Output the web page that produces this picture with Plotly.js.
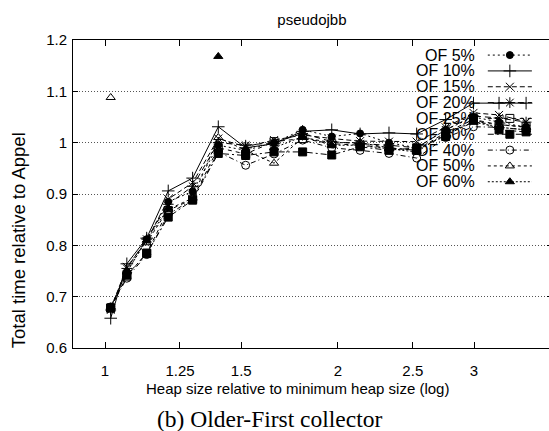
<!DOCTYPE html>
<html>
<head>
<meta charset="utf-8">
<script src="https://cdn.plot.ly/plotly-3.0.1.min.js"></script>
<style>
html,body{margin:0;padding:0;background:#fff;overflow:hidden;}
#chart{width:556px;height:431px;}
</style>
</head>
<body>
<div id="chart"></div>
<script>
// ---- data ----
const heapSize = [1.017, 1.067, 1.132, 1.207, 1.298, 1.401, 1.52, 1.654, 1.801, 1.964, 2.137, 2.329, 2.529, 2.757, 2.995, 3.232, 3.503];
const seriesNames = ['OF 5%', 'OF 10%', 'OF 15%', 'OF 20%', 'OF 25%', 'OF 30%', 'OF 40%', 'OF 50%', 'OF 60%'];
const of5  = [0.680, 0.748, 0.812, 0.885, 0.905, 0.995, 0.985, 1.000, 1.025, 1.012, 1.018, 1.000, 0.990, 1.025, 1.050, 1.040, 1.030];
const of10 = [0.658, 0.764, 0.814, 0.906, 0.931, 1.031, 0.990, 0.998, 1.022, 1.025, 1.017, 1.019, 1.017, 1.045, 1.077, 1.077, 1.077];
const of15 = [0.676, 0.758, 0.808, 0.890, 0.922, 1.008, 0.992, 1.005, 1.015, 1.008, 1.003, 1.002, 1.002, 1.030, 1.058, 1.054, 1.041];
const of20 = [0.674, 0.755, 0.812, 0.880, 0.915, 1.000, 0.995, 1.000, 1.018, 1.002, 0.998, 0.995, 0.990, 1.025, 1.052, 1.048, 1.040];
const of25 = [0.678, 0.740, 0.785, 0.868, 0.890, 0.990, 0.978, 1.002, 1.008, 0.998, 0.995, 0.990, 0.985, 1.020, 1.045, 1.035, 1.031];
const of30 = [0.678, 0.742, 0.784, 0.855, 0.888, 0.979, 0.975, 0.982, 0.982, 0.976, 0.992, 0.985, 0.990, 1.012, 1.047, 1.025, 1.021];
const of40 = [0.680, 0.736, 0.782, 0.860, 0.890, 0.982, 0.956, 0.978, 1.005, 0.990, 0.985, 0.979, 0.970, 1.010, 1.031, 1.030, 1.025];
const of50 = [1.088, null, 0.805, 0.870, 0.892, 1.010, 0.985, 0.960, 1.010, 1.000, 1.000, 0.990, 0.985, 1.015, 1.040, 1.035, 1.030];
const of60 = [0.680, 0.748, 0.810, 0.872, null, 1.168, null, 0.990, 1.012, 0.995, 0.995, 0.988, 0.982, 1.018, 1.040, 1.030, 1.025];
const xTickVals = [1, 1.25, 1.5, 2, 2.5, 3];
const xTickText = ['1', '1.25', '1.5', '2', '2.5', '3'];
const yTickVals = [0.6, 0.7, 0.8, 0.9, 1.0, 1.1, 1.2];
const yTickText = ['0.6', '0.7', '0.8', '0.9', '1', '1.1', '1.2'];

// ---- styles ----
const allSeries = [of5, of10, of15, of20, of25, of30, of40, of50, of60];
const symbols = ['circle', 'cross-thin-open', 'x-thin-open', 'asterisk-open', 'square-open', 'square', 'circle-open', 'triangle-up-open', 'triangle-up'];
const sizes = [7, 9, 8, 9, 8, 8, 8, 8, 8];
const dashes = ['2px,3px', 'solid', '5px,3px', '6px,4px', '4px,4px', '6px,3px,2px,3px', '5px,3px,1px,3px', '3px,3px', '2px,2px'];

const FONT = 'Liberation Sans, Arial, sans-serif';
const traces = [];
allSeries.forEach((ys, i) => {
  traces.push({
    type: 'scatter', mode: 'lines+markers', name: seriesNames[i],
    x: heapSize, y: ys, connectgaps: false, showlegend: false,
    line: {color: '#000', width: 1, dash: dashes[i]},
    marker: {symbol: symbols[i], size: sizes[i], color: '#000', line: {color: '#000', width: 1}},
    cliponaxis: true
  });
});

// legend keys drawn on an overlay axis spanning the plot area (0..1)
const keyX0 = 0.866, keyX1 = 0.958, keyTextX = 0.8434, keyTop = 0.951, keyStep = 0.0514;
const annotations = [];
seriesNames.forEach((nm, i) => {
  const ry = keyTop - i * keyStep;
  traces.push({
    type: 'scatter', mode: 'lines+markers', xaxis: 'x2', yaxis: 'y2', showlegend: false, hoverinfo: 'skip',
    x: [keyX0, (keyX0 + keyX1) / 2, keyX1], y: [ry, ry, ry],
    line: {color: '#000', width: 1, dash: dashes[i]},
    marker: {symbol: symbols[i], size: sizes[i], color: '#000', opacity: [0, 1, 0], line: {color: '#000', width: 1}}
  });
  annotations.push({xref: 'paper', yref: 'paper', x: keyTextX, y: ry, xanchor: 'right', yanchor: 'middle',
    text: nm, showarrow: false, font: {family: FONT, size: 16, color: '#000'}});
});

annotations.push({xref: 'paper', yref: 'paper', x: 0.4687, y: -0.13, xanchor: 'center', yanchor: 'middle',
  text: 'Heap size relative to minimum heap size (log)', showarrow: false, font: {family: FONT, size: 15, color: '#000'}});
annotations.push({xref: 'paper', yref: 'paper', x: -0.1148, y: 0.35, xanchor: 'center', yanchor: 'middle', textangle: -90,
  text: 'Total time relative to Appel', showarrow: false, font: {family: FONT, size: 18.5, color: '#000'}});
annotations.push({xref: 'paper', yref: 'paper', x: 0.411, y: -0.2305, xanchor: 'center', yanchor: 'middle',
  text: '(b) Older-First collector', showarrow: false, font: {family: 'Liberation Serif, Times New Roman, serif', size: 23.5, color: '#000'}});

const layout = {
  width: 556, height: 431,
  margin: {l: 73, r: 4, t: 40, b: 83},
  paper_bgcolor: '#fff', plot_bgcolor: '#fff',
  showlegend: false,
  title: {text: 'pseudojbb', font: {family: FONT, size: 15, color: '#000'}, xref: 'container', yref: 'container', x: 0.561, y: 0.955, xanchor: 'center', yanchor: 'middle'},
  xaxis: {
    type: 'log', range: [Math.log10(0.909), Math.log10(3.784)],
    tickvals: xTickVals, ticktext: xTickText,
    ticks: 'inside', ticklen: 6, tickcolor: '#000', tickwidth: 1,
    showline: true, linecolor: '#000', linewidth: 1, mirror: 'ticks',
    showgrid: false, zeroline: false, ticklabelstandoff: 9,
    tickfont: {family: FONT, size: 15, color: '#000'}
  },
  yaxis: {
    range: [0.6, 1.2], tickvals: yTickVals, ticktext: yTickText,
    ticks: 'inside', ticklen: 5, tickcolor: '#000', tickwidth: 1,
    showline: true, linecolor: '#000', linewidth: 1, mirror: 'ticks',
    showgrid: true, gridcolor: '#555', griddash: '1px,2px', gridwidth: 1, zeroline: false,
    ticklabelstandoff: 2,
    tickfont: {family: FONT, size: 15, color: '#000'}
  },
  xaxis2: {overlaying: 'x', range: [0, 1], visible: false, fixedrange: true},
  yaxis2: {overlaying: 'y', range: [0, 1], visible: false, fixedrange: true},
  annotations: annotations
};

Plotly.newPlot('chart', traces, layout, {displayModeBar: false, staticPlot: true});
</script>
</body>
</html>
